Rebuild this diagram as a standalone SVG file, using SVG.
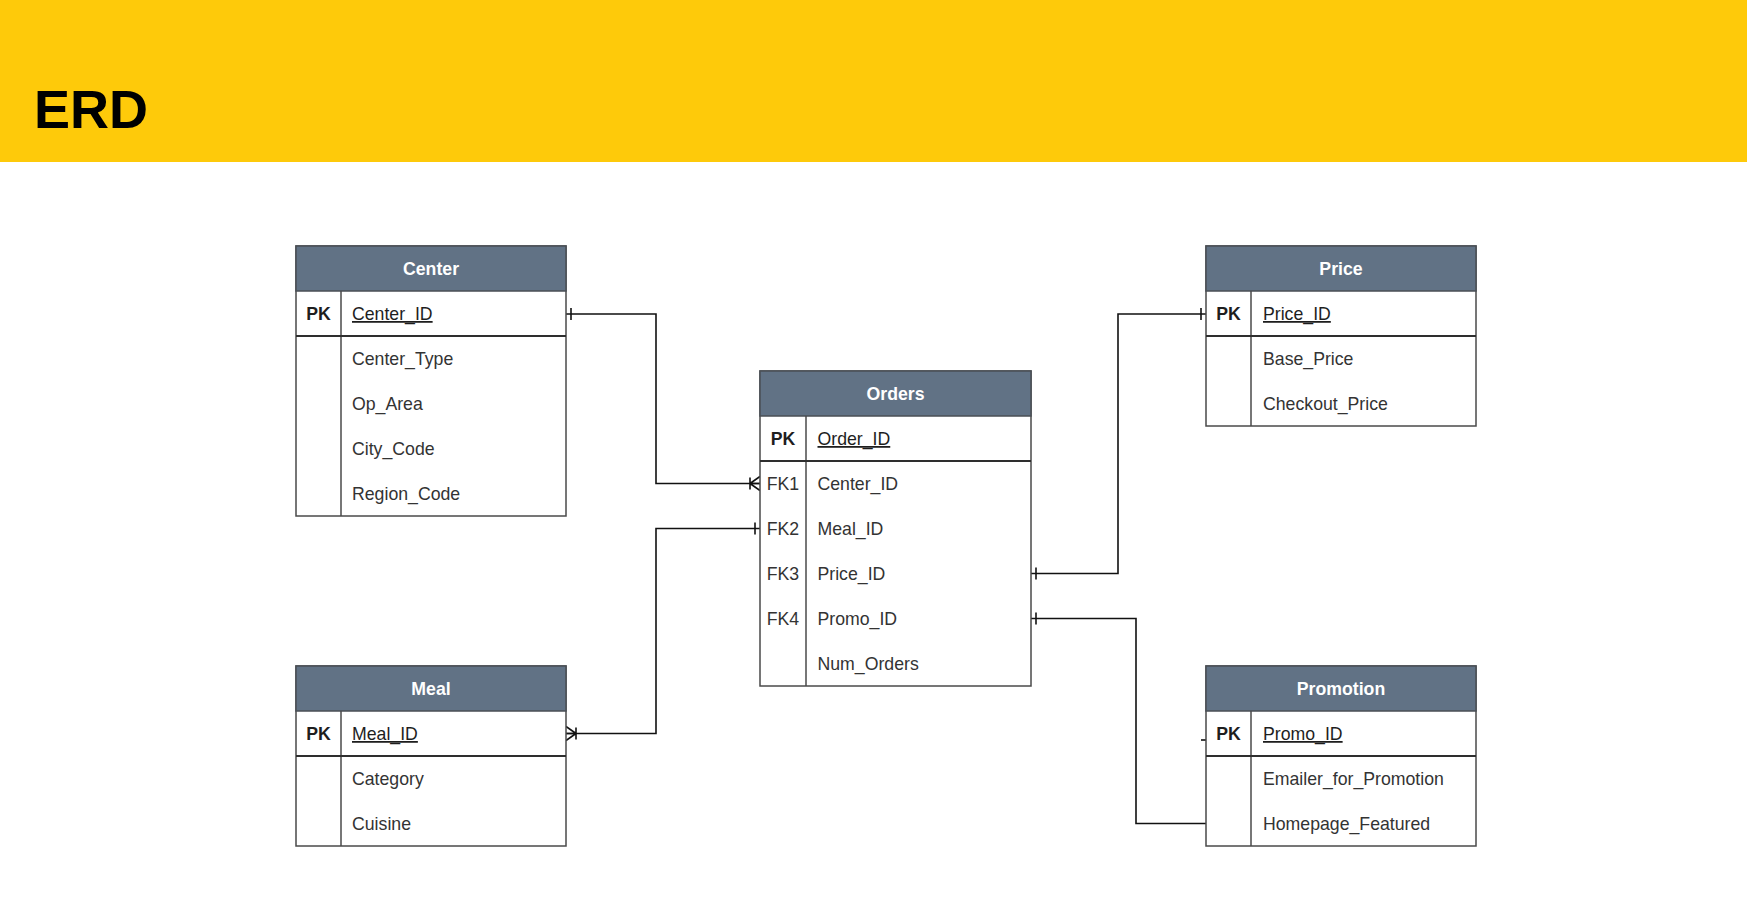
<svg xmlns="http://www.w3.org/2000/svg" width="1747" height="919" viewBox="0 0 1747 919">
  <style>
    .hdr { fill: #617285; stroke: #4a4f55; stroke-width: 1.5; }
    .box { fill: #ffffff; stroke: #4a4a4a; stroke-width: 1.5; }
    .sep { stroke: #2e2e2e; stroke-width: 1.8; }
    .col { stroke: #4a4a4a; stroke-width: 1.5; }
    .title { font-family: "Liberation Sans", Arial, sans-serif; font-weight: 700; font-size: 17.7px; fill: #ffffff; text-anchor: middle; }
    .key { font-family: "Liberation Sans", Arial, sans-serif; font-weight: 700; font-size: 17.7px; fill: #1e1e1e; text-anchor: middle; }
    .fk { font-family: "Liberation Sans", Arial, sans-serif; font-size: 17.7px; fill: #333333; text-anchor: middle; }
    .attr { font-family: "Liberation Sans", Arial, sans-serif; font-size: 17.7px; fill: #333333; }
    .pk { font-family: "Liberation Sans", Arial, sans-serif; font-size: 17.7px; fill: #1e1e1e; text-decoration: underline; }
    .link { fill: none; stroke: #111111; stroke-width: 1.6; }
  </style>
  <defs>
    <!-- mandatory one: single bar 5px before the entity edge -->
    <marker id="one" markerUnits="userSpaceOnUse" viewBox="0 0 20 20" refX="20" refY="10" markerWidth="20" markerHeight="20" orient="auto-start-reverse">
      <path d="M15,4 V16" fill="none" stroke="#111111" stroke-width="1.6"/>
    </marker>
    <!-- one-or-many: bar plus crow's foot -->
    <marker id="many" markerUnits="userSpaceOnUse" viewBox="0 0 20 20" refX="20" refY="10" markerWidth="20" markerHeight="20" orient="auto-start-reverse">
      <path d="M10,4 V16 M10,10 L20,3 M10,10 L20,17 M10,10 H20" fill="none" stroke="#111111" stroke-width="1.6"/>
    </marker>
  </defs>

  <!-- banner -->
  <rect x="0" y="0" width="1747" height="162" fill="#FECA0A"/>
  <text x="34" y="128" font-family="Liberation Sans, Arial, sans-serif" font-weight="700" font-size="54" fill="#000000">ERD</text>

  <!-- relationships -->
  <g id="connectors">
    <path class="link" d="M566,314 H656 V483.5 H760" marker-start="url(#one)" marker-end="url(#many)"/>
    <path class="link" d="M566,733.5 H656 V528.5 H760" marker-start="url(#many)" marker-end="url(#one)"/>
    <path class="link" d="M1031,573.5 H1118 V314 H1206" marker-start="url(#one)" marker-end="url(#one)"/>
    <path class="link" d="M1031,618.5 H1136 V823.5 H1206" marker-start="url(#one)"/>
    <path class="link" d="M1201,740 H1210"/>
  </g>

  <!-- Center -->
  <g id="center">
    <rect class="box" x="296" y="246" width="270" height="270"/>
    <rect class="hdr" x="296" y="246" width="270" height="45"/>
    <line class="col" x1="341" y1="291" x2="341" y2="516"/>
    <line class="sep" x1="296" y1="336" x2="566" y2="336"/>
    <text class="title" x="431" y="275">Center</text>
    <text class="key" x="318.5" y="320">PK</text>
    <text class="pk" x="352" y="320">Center_ID</text>
    <text class="attr" x="352" y="365">Center_Type</text>
    <text class="attr" x="352" y="410">Op_Area</text>
    <text class="attr" x="352" y="455">City_Code</text>
    <text class="attr" x="352" y="500">Region_Code</text>
  </g>

  <!-- Meal -->
  <g id="meal">
    <rect class="box" x="296" y="666" width="270" height="180"/>
    <rect class="hdr" x="296" y="666" width="270" height="45"/>
    <line class="col" x1="341" y1="711" x2="341" y2="846"/>
    <line class="sep" x1="296" y1="756" x2="566" y2="756"/>
    <text class="title" x="431" y="695">Meal</text>
    <text class="key" x="318.5" y="740">PK</text>
    <text class="pk" x="352" y="740">Meal_ID</text>
    <text class="attr" x="352" y="785">Category</text>
    <text class="attr" x="352" y="830">Cuisine</text>
  </g>

  <!-- Orders -->
  <g id="orders">
    <rect class="box" x="760" y="371" width="271" height="315"/>
    <rect class="hdr" x="760" y="371" width="271" height="45"/>
    <line class="col" x1="806" y1="416" x2="806" y2="686"/>
    <line class="sep" x1="760" y1="461" x2="1031" y2="461"/>
    <text class="title" x="895.5" y="400">Orders</text>
    <text class="key" x="783" y="445">PK</text>
    <text class="pk" x="817.5" y="445">Order_ID</text>
    <text class="fk" x="783" y="490">FK1</text>
    <text class="attr" x="817.5" y="490">Center_ID</text>
    <text class="fk" x="783" y="535">FK2</text>
    <text class="attr" x="817.5" y="535">Meal_ID</text>
    <text class="fk" x="783" y="580">FK3</text>
    <text class="attr" x="817.5" y="580">Price_ID</text>
    <text class="fk" x="783" y="625">FK4</text>
    <text class="attr" x="817.5" y="625">Promo_ID</text>
    <text class="attr" x="817.5" y="670">Num_Orders</text>
  </g>

  <!-- Price -->
  <g id="price">
    <rect class="box" x="1206" y="246" width="270" height="180"/>
    <rect class="hdr" x="1206" y="246" width="270" height="45"/>
    <line class="col" x1="1251" y1="291" x2="1251" y2="426"/>
    <line class="sep" x1="1206" y1="336" x2="1476" y2="336"/>
    <text class="title" x="1341" y="275">Price</text>
    <text class="key" x="1228.5" y="320">PK</text>
    <text class="pk" x="1263" y="320">Price_ID</text>
    <text class="attr" x="1263" y="365">Base_Price</text>
    <text class="attr" x="1263" y="410">Checkout_Price</text>
  </g>

  <!-- Promotion -->
  <g id="promotion">
    <rect class="box" x="1206" y="666" width="270" height="180"/>
    <rect class="hdr" x="1206" y="666" width="270" height="45"/>
    <line class="col" x1="1251" y1="711" x2="1251" y2="846"/>
    <line class="sep" x1="1206" y1="756" x2="1476" y2="756"/>
    <text class="title" x="1341" y="695">Promotion</text>
    <text class="key" x="1228.5" y="740">PK</text>
    <text class="pk" x="1263" y="740">Promo_ID</text>
    <text class="attr" x="1263" y="785">Emailer_for_Promotion</text>
    <text class="attr" x="1263" y="830">Homepage_Featured</text>
  </g>
</svg>
